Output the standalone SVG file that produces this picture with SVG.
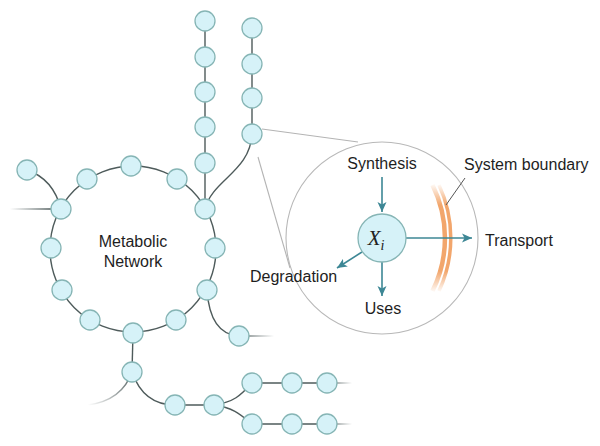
<svg xmlns="http://www.w3.org/2000/svg" width="600" height="446" viewBox="0 0 600 446">
<style>
.edge{fill:none;stroke:#4e5b5b;stroke-width:1.4}
.node{fill:#d6f2f8;stroke:#86b5b5;stroke-width:1.3}
.lbl{font-family:"Liberation Sans",Arial,sans-serif;font-size:16px;fill:#1e1e1e}
.arr{stroke:#3d8795;stroke-width:1.6;fill:none}
.tan{stroke:#b4b4b4;stroke-width:1.1;fill:none}
</style>
<defs>
<marker id="ah" viewBox="0 0 10 10" refX="10" refY="5" markerWidth="10" markerHeight="10" markerUnits="userSpaceOnUse" orient="auto">
<path d="M0,0.5 L10,5 L0,9.5 L2.5,5 Z" fill="#3d8795"/>
</marker>
<linearGradient id="gL" gradientUnits="userSpaceOnUse" x1="10" y1="0" x2="51" y2="0">
<stop offset="0" stop-color="#4e5b5b" stop-opacity="0"/><stop offset="1" stop-color="#4e5b5b" stop-opacity="1"/>
</linearGradient>
<linearGradient id="gR1" gradientUnits="userSpaceOnUse" x1="239" y1="0" x2="274" y2="0">
<stop offset="0" stop-color="#4e5b5b" stop-opacity="1"/><stop offset="1" stop-color="#4e5b5b" stop-opacity="0"/>
</linearGradient>
<linearGradient id="gR2" gradientUnits="userSpaceOnUse" x1="327" y1="0" x2="352" y2="0">
<stop offset="0" stop-color="#4e5b5b" stop-opacity="1"/><stop offset="1" stop-color="#4e5b5b" stop-opacity="0"/>
</linearGradient>
<linearGradient id="gBL" gradientUnits="userSpaceOnUse" x1="132" y1="372" x2="88" y2="405">
<stop offset="0" stop-color="#4e5b5b" stop-opacity="1"/><stop offset="1" stop-color="#4e5b5b" stop-opacity="0"/>
</linearGradient>
<linearGradient id="gOr" gradientUnits="userSpaceOnUse" x1="0" y1="183" x2="0" y2="293">
<stop offset="0" stop-color="#f2a66c" stop-opacity="0"/>
<stop offset="0.2" stop-color="#f2a66c" stop-opacity="1"/>
<stop offset="0.8" stop-color="#f2a66c" stop-opacity="1"/>
<stop offset="1" stop-color="#f2a66c" stop-opacity="0"/>
</linearGradient>
</defs>

<g id="connectors">
<circle class="edge" cx="133" cy="249" r="83"/>
<path class="edge" d="M27,170 C45,176 56,190 61,209"/>
<path d="M10,209 L51,209" stroke="url(#gL)" stroke-width="1.4"/>
<path class="edge" d="M205,21 L205,209"/>
<path class="edge" d="M252,28 L252,134"/>
<path class="edge" d="M205,209 C212,180 250,172 252,134"/>
<path class="edge" d="M207,290 C209,320 220,335 239,336"/>
<path d="M239,336 L274,336" stroke="url(#gR1)" stroke-width="1.4"/>
<path class="edge" d="M133,333 L132,372"/>
<path class="edge" d="M132,372 C140,395 155,405 175,405"/>
<path d="M132,372 C125,392 110,402 88,405" fill="none" stroke="url(#gBL)" stroke-width="1.4"/>
<path class="edge" d="M175,405 L214,405"/>
<path class="edge" d="M214,405 C234,402 240,396 252,383"/>
<path class="edge" d="M214,405 C234,408 240,414 252,424"/>
<path class="edge" d="M252,383 L327,383"/>
<path class="edge" d="M252,424 L327,424"/>
<path d="M327,383 L352,383 M327,424 L352,424" stroke="url(#gR2)" stroke-width="1.4"/>
<path class="tan" d="M262,129 L358,142"/>
<path class="tan" d="M258,157 L290,268"/>
</g>

<g id="ring-nodes">
<circle class="node" cx="27" cy="170" r="10"/>
<circle class="node" cx="61" cy="209" r="10"/>
<circle class="node" cx="87" cy="179" r="10"/>
<circle class="node" cx="131" cy="166" r="10"/>
<circle class="node" cx="177" cy="179" r="10"/>
<circle class="node" cx="205" cy="209" r="10"/>
<circle class="node" cx="215" cy="248" r="10"/>
<circle class="node" cx="207" cy="290" r="10"/>
<circle class="node" cx="176" cy="320" r="10"/>
<circle class="node" cx="133" cy="333" r="10"/>
<circle class="node" cx="90" cy="320" r="10"/>
<circle class="node" cx="62" cy="290" r="10"/>
<circle class="node" cx="51" cy="248" r="10"/>
</g>
<g id="chain-top1">
<circle class="node" cx="205" cy="21" r="10"/>
<circle class="node" cx="205" cy="57" r="10"/>
<circle class="node" cx="205" cy="92" r="10"/>
<circle class="node" cx="205" cy="127" r="10"/>
<circle class="node" cx="205" cy="163" r="10"/>
</g>
<g id="chain-top2">
<circle class="node" cx="252" cy="28" r="10"/>
<circle class="node" cx="252" cy="64" r="10"/>
<circle class="node" cx="252" cy="98" r="10"/>
<circle class="node" cx="252" cy="134" r="10"/>
</g>
<g id="branch-right">
<circle class="node" cx="239" cy="336" r="10"/>
</g>
<g id="chain-bottom">
<circle class="node" cx="132" cy="372" r="10"/>
<circle class="node" cx="175" cy="405" r="10"/>
<circle class="node" cx="214" cy="405" r="10"/>
<circle class="node" cx="252" cy="383" r="10"/>
<circle class="node" cx="292" cy="383" r="10"/>
<circle class="node" cx="327" cy="383" r="10"/>
<circle class="node" cx="252" cy="424" r="10"/>
<circle class="node" cx="292" cy="424" r="10"/>
<circle class="node" cx="327" cy="424" r="10"/>
</g>
<g id="network-label">
<text class="lbl" x="133" y="247" text-anchor="middle">Metabolic</text>
<text class="lbl" x="133" y="267" text-anchor="middle">Network</text>
</g>

<g id="zoom-circle">
<circle cx="382" cy="238" r="96" fill="#fff" stroke="#b8b8b8" stroke-width="1.1"/>
</g>
<g id="system-boundary">
<path d="M432.5,185 A119,119 0 0 1 432.5,291" fill="none" stroke="url(#gOr)" stroke-width="4.5"/>
<path d="M439,185 A125,125 0 0 1 439,291" fill="none" stroke="url(#gOr)" stroke-width="3.5"/>
<path d="M465,178 L446,205" stroke="#555" stroke-width="1"/>
<text class="lbl" x="464" y="170">System boundary</text>
</g>
<g id="flux-arrows">
<path class="arr" d="M382,177 L382,212" marker-end="url(#ah)"/>
<path class="arr" d="M406,238 L472,238" marker-end="url(#ah)"/>
<path class="arr" d="M382,262 L382,296" marker-end="url(#ah)"/>
<path class="arr" d="M362,252 L337,268" marker-end="url(#ah)"/>
</g>
<g id="Xi">
<circle cx="382" cy="238" r="24" fill="#d6f2f8" stroke="#86b5b5" stroke-width="1.3"/>
<text x="376" y="245" text-anchor="middle" font-family="'Liberation Serif','Times New Roman',serif" font-style="italic" font-size="21" fill="#222">X<tspan font-size="14" dy="5">i</tspan></text>
</g>
<g id="labels">
<text class="lbl" x="382" y="169" text-anchor="middle">Synthesis</text>
<text class="lbl" x="485" y="246">Transport</text>
<text class="lbl" x="250" y="282">Degradation</text>
<text class="lbl" x="383" y="314" text-anchor="middle">Uses</text>
</g>
</svg>
